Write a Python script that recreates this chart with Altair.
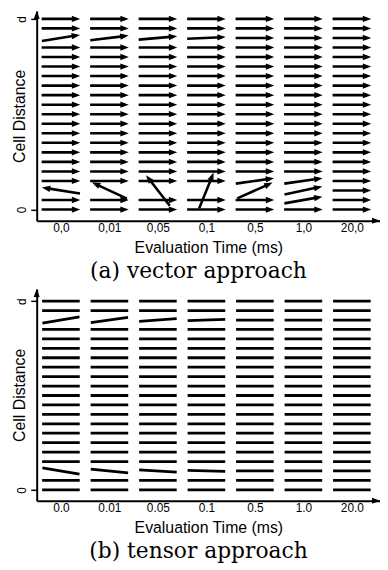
import json
import math
import altair as alt
import pandas as pd

# ---- data ----
times_a = ["0,0", "0,01", "0,05", "0,1", "0,5", "1,0", "20,0"]
times_b = ["0.0", "0.01", "0.05", "0.1", "0.5", "1.0", "20.0"]
n_rows = 21  # cells 0 .. d

# vector approach: cells whose direction is not horizontal (degrees, counter-clockwise)
vec_cols = [0, 1, 2, 3, 0, 1, 2, 3, 4, 4, 5, 5, 5]
vec_rows = [18, 18, 18, 18, 2, 2, 2, 2, 2, 3, 1, 2, 3]
vec_angles = [9, 7, 5, 2.5, 171, 155, 128, 68, 24, 8, 10, 12, 8]

# tensor approach: cells whose orientation is not horizontal
ten_cols = [0, 1, 2, 3, 0, 1, 2, 3]
ten_rows = [18, 18, 18, 18, 2, 2, 2, 2]
ten_angles = [9.5, 8, 4.5, 2, -9.5, -6, -3.5, -1.5]

# ---- layout ----
W = 347
X_DOM = [-0.5, 6.58]
H_A, Y_DOM_A = 212, [-1.17, 20.83]
H_B, Y_DOM_B = 214, [-1.15, 21.29]
FONT = "Liberation Sans"
HALF_ARROW = 19.5
HALF_LINE = 19.0
HEAD = 4.2


def field(cols, rows, angles, h, ydom, half, head):
    px_x = W / (X_DOM[1] - X_DOM[0])
    px_y = h / (ydom[1] - ydom[0])
    lookup = {(c, r): a for c, r, a in zip(cols, rows, angles)}
    recs = []
    for c in range(len(times_a)):
        for r in range(n_rows):
            a = lookup.get((c, r), 0.0)
            ca, sa = math.cos(math.radians(a)), math.sin(math.radians(a))
            recs.append({
                "x1": c - half * ca / px_x, "y1": r - half * sa / px_y,
                "x2": c + (half - head) * ca / px_x, "y2": r + (half - head) * sa / px_y,
                "hx": c + (half - head) * ca / px_x, "hy": r + (half - head) * sa / px_y,
                "hang": (360 - a) % 360,
            })
    return pd.DataFrame(recs)


ARROW_PATH = "M1,0L-1,-0.75L-1,0.75Z"


def panel(df, labels, h, ydom, caption, arrows):
    xs = alt.Scale(domain=X_DOM, nice=False, zero=False)
    ys = alt.Scale(domain=ydom, nice=False, zero=False)
    lab_expr = json.dumps(labels) + "[datum.value]"
    xax = alt.Axis(values=list(range(len(labels))), labelExpr=lab_expr, ticks=False,
                   grid=False, domainColor="black", domainWidth=2,
                   labelFont=FONT, labelFontSize=12, labelColor="black", labelPadding=2,
                   title="Evaluation Time (ms)", titleFont=FONT, titleFontSize=16,
                   titleFontWeight="normal", titleColor="black", titlePadding=6)
    yax = alt.Axis(values=[0, 20], labelExpr="datum.value == 20 ? 'd' : '0'",
                   labelAngle=-90, ticks=True, tickSize=6, tickWidth=1.5, tickColor="black",
                   grid=False, domainColor="black", domainWidth=2,
                   labelFont=FONT, labelFontSize=12, labelColor="black", labelPadding=2,
                   title="Cell Distance", titleFont=FONT, titleFontSize=16,
                   titleFontWeight="normal", titleColor="black",
                   titleX=-17, titleY=h / 2, titleBaseline="middle", titleAlign="center",
                   titleAngle=270)
    base = alt.Chart(df)
    shaft = base.mark_rule(color="black", strokeWidth=2.6 if arrows else 2.8, strokeCap="butt").encode(
        x=alt.X("x1:Q", scale=xs, axis=xax),
        y=alt.Y("y1:Q", scale=ys, axis=yax),
        x2="x2:Q", y2="y2:Q",
    )
    layers = [shaft]
    if arrows:
        heads = base.mark_point(shape=ARROW_PATH, filled=True, color="black", size=72, opacity=1).encode(
            x=alt.X("hx:Q", scale=xs), y=alt.Y("hy:Q", scale=ys),
            angle=alt.Angle("hang:Q", scale=None),
        )
        layers.append(heads)
    corner = pd.DataFrame({"x": [X_DOM[0], X_DOM[1]], "y": [ydom[1], ydom[0]], "a": [270, 0]})
    ytip = alt.Chart(corner.iloc[[0]]).mark_point(shape=ARROW_PATH, filled=True, color="black",
                                                  size=64, opacity=1, yOffset=4).encode(
        x=alt.X("x:Q", scale=xs), y=alt.Y("y:Q", scale=ys), angle=alt.Angle("a:Q", scale=None))
    xtip = alt.Chart(corner.iloc[[1]]).mark_point(shape=ARROW_PATH, filled=True, color="black",
                                                  size=64, opacity=1, xOffset=-4).encode(
        x=alt.X("x:Q", scale=xs), y=alt.Y("y:Q", scale=ys), angle=alt.Angle("a:Q", scale=None))
    layers += [ytip, xtip]
    return alt.layer(*layers).properties(
        width=W, height=h,
        title=alt.TitleParams(caption, orient="bottom", font="DejaVu Serif", fontSize=22,
                              fontWeight="normal", color="black", anchor="middle",
                              offset=6, dx=-10),
    )


pa = panel(field(vec_cols, vec_rows, vec_angles, H_A, Y_DOM_A, HALF_ARROW, HEAD),
           times_a, H_A, Y_DOM_A, "(a) vector approach", True)
pb = panel(field(ten_cols, ten_rows, ten_angles, H_B, Y_DOM_B, HALF_LINE, 0.0),
           times_b, H_B, Y_DOM_B, "(b) tensor approach", False)

chart = alt.vconcat(pa, pb, spacing=7).properties(
    padding={"left": 4, "top": 0, "right": 0, "bottom": 0}
).configure_view(strokeWidth=0)

chart.save("out.html", embed_options={"renderer": "svg", "actions": False})
